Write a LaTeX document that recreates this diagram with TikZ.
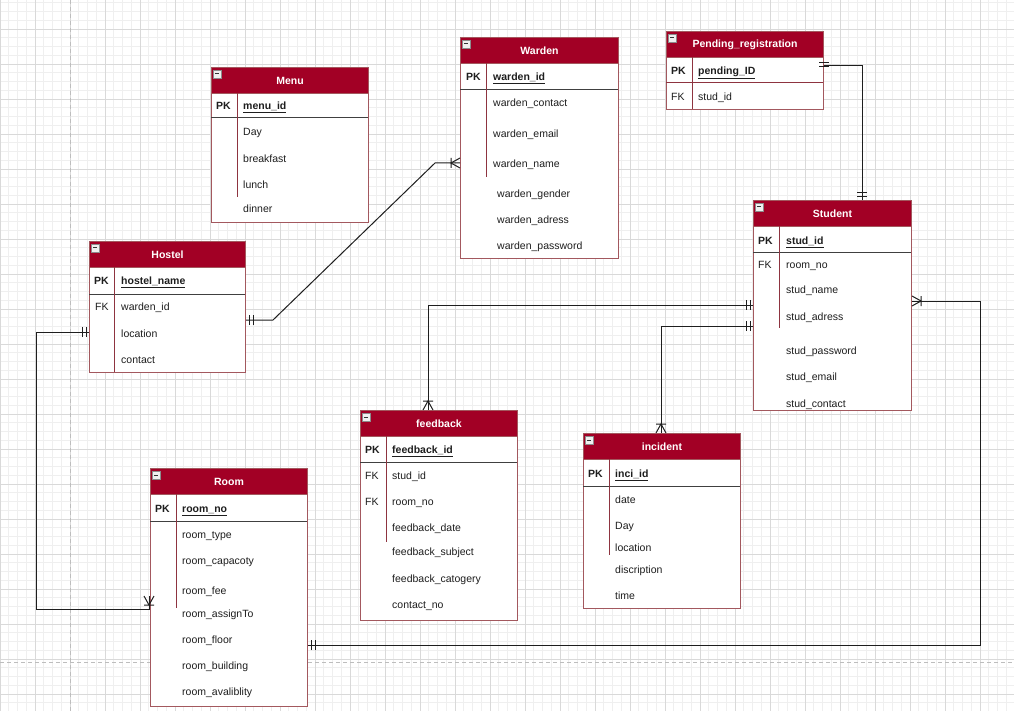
\documentclass[tikz,border=0pt]{standalone}
\usepackage{fontspec}
\setmainfont{Liberation Sans}
\usetikzlibrary{calc}

\definecolor{hdr}{HTML}{A20025}
\definecolor{tline}{HTML}{A3585E}
\definecolor{cdiv}{HTML}{8E3440}
\definecolor{gminor}{HTML}{EFEFEF}
\definecolor{gmajor}{HTML}{D9D9D9}
\definecolor{pgbrk}{HTML}{BDBDBD}
\definecolor{ink}{HTML}{1E1E1E}

\newcommand\fsz{\fontsize{10.5}{12}\selectfont}

\tikzset{
  tbl/.style={draw=tline, line width=1pt, fill=white, anchor=north west, inner sep=0pt},
  thd/.style={draw=tline, line width=1pt, fill=hdr, anchor=north west, inner sep=0pt,
              minimum height=26pt, text=white, font=\fsz\bfseries},
  fld/.style={anchor=west, inner sep=0pt, text=ink, font=\fsz, text height=11pt, text depth=2pt},
  keyl/.style={fld, font=\fsz\bfseries},
  rel/.style={draw=ink, line width=1pt},
  pkdiv/.style={draw=ink!85, line width=1pt},
  coldiv/.style={draw=cdiv, line width=1pt},
  gmin/.style={draw=gminor, line width=0.6pt},
  gmaj/.style={draw=gmajor, line width=0.8pt},
  pics/mandone/.style={code={\draw[rel] (-3,-5)--(-3,5) (-7,-5)--(-7,5);}},
  pics/onemany/.style={code={\draw[rel] (0,-5)--(-9,0)--(0,5) (-9,-5)--(-9,5);}},
  pics/collapse/.style={code={
    \filldraw[fill=white!94!black, draw=black!45, line width=0.5pt] (0,0) rectangle (8,8);
    \draw[black!80, line width=1pt] (2,4)--(6,4);}}
}

\begin{document}
\begin{tikzpicture}[x=1pt,y=-1pt]
\useasboundingbox (0,0) rectangle (1014,711);
\fill[white] (0,0) rectangle (1014,711);

% background grid
\foreach \i in {0,...,115} {\draw[gmin] ({\i*8.75},0) -- ({\i*8.75},711);}
\foreach \j in {0,...,81} {\draw[gmin] (0,{2.75+\j*8.75}) -- (1014,{2.75+\j*8.75});}
\foreach \i in {0,...,28} {\draw[gmaj] ({\i*35},0) -- ({\i*35},711);}
\foreach \j in {0,...,19} {\draw[gmaj] (0,{29+\j*35}) -- (1014,{29+\j*35});}
% page breaks
\draw[pgbrk, line width=0.8pt, dash pattern=on 4pt off 3pt] (70,0) -- (70,711);
\draw[pgbrk, line width=0.8pt, dash pattern=on 4pt off 3pt] (0,662) -- (1014,662);

% ---------- Menu ----------
\node[tbl, minimum width=157pt, minimum height=155pt] (menu) at (211,67) {};
\node[thd, minimum width=157pt] (menuH) at (menu.north west) {Menu};
\pic at (213,70) {collapse};
\draw[pkdiv] (211,118) -- (368,118);
\draw[coldiv] (237,93) -- (237,197);
\node[keyl] (menuK) at (216,105) {PK};
\node[keyl] (menuA0) at (243,105) {\underline{menu\_id}};
\node[fld] (menuA1) at (243,131) {Day};
\node[fld] (menuA2) at (243,158) {breakfast};
\node[fld] (menuA3) at (243,184) {lunch};
\node[fld] (menuA4) at (243,208) {dinner};

% ---------- Warden ----------
\node[tbl, minimum width=158pt, minimum height=221pt] (warden) at (460,37) {};
\node[thd, minimum width=158pt] (wardenH) at (warden.north west) {Warden};
\pic at (462,40) {collapse};
\draw[pkdiv] (460,90) -- (618,90);
\draw[coldiv] (486,63) -- (486,177);
\node[keyl] (wardenK) at (466,76) {PK};
\node[keyl] (wardenA0) at (493,76) {\underline{warden\_id}};
\node[fld] (wardenA1) at (493,102) {warden\_contact};
\node[fld] (wardenA2) at (493,133) {warden\_email};
\node[fld] (wardenA3) at (493,163) {warden\_name};
\node[fld] (wardenA4) at (497,193) {warden\_gender};
\node[fld] (wardenA5) at (497,219) {warden\_adress};
\node[fld] (wardenA6) at (497,245) {warden\_password};

% ---------- Pending_registration ----------
\node[tbl, minimum width=157pt, minimum height=78pt] (pending) at (666,31) {};
\node[thd, minimum width=157pt] (pendingH) at (pending.north west) {Pending\_registration};
\pic at (668,34) {collapse};
\draw[coldiv] (666,83) -- (823,83);
\draw[coldiv] (692,57) -- (692,109);
\node[keyl] (pendingK) at (671,70) {PK};
\node[keyl] (pendingA0) at (698,70) {\underline{pending\_ID}};
\node[fld] (pendingF) at (671,96) {FK};
\node[fld] (pendingA1) at (698,96) {stud\_id};

% ---------- Hostel ----------
\node[tbl, minimum width=156pt, minimum height=131pt] (hostel) at (89,241) {};
\node[thd, minimum width=156pt] (hostelH) at (hostel.north west) {Hostel};
\pic at (91,244) {collapse};
\draw[pkdiv] (89,294) -- (245,294);
\draw[coldiv] (114,267) -- (114,372);
\node[keyl] (hostelK) at (94,280) {PK};
\node[keyl] (hostelA0) at (121,280) {\underline{hostel\_name}};
\node[fld] (hostelF) at (95,306) {FK};
\node[fld] (hostelA1) at (121,306) {warden\_id};
\node[fld] (hostelA2) at (121,333) {location};
\node[fld] (hostelA3) at (121,359) {contact};

% ---------- Student ----------
\node[tbl, minimum width=158pt, minimum height=210pt] (student) at (753,200) {};
\node[thd, minimum width=158pt] (studentH) at (student.north west) {Student};
\pic at (755,203) {collapse};
\draw[pkdiv] (753,253) -- (911,253);
\draw[coldiv] (779,226) -- (779,328);
\node[keyl] (studentK) at (758,240) {PK};
\node[keyl] (studentA0) at (786,240) {\underline{stud\_id}};
\node[fld] (studentF) at (758,264) {FK};
\node[fld] (studentA1) at (786,264) {room\_no};
\node[fld] (studentA2) at (786,289) {stud\_name};
\node[fld] (studentA3) at (786,316) {stud\_adress};
\node[fld] (studentA4) at (786,350) {stud\_password};
\node[fld] (studentA5) at (786,376) {stud\_email};
\node[fld] (studentA6) at (786,403) {stud\_contact};

% ---------- feedback ----------
\node[tbl, minimum width=157pt, minimum height=210pt] (feedback) at (360,410) {};
\node[thd, minimum width=157pt] (feedbackH) at (feedback.north west) {feedback};
\pic at (362,413) {collapse};
\draw[pkdiv] (360,462) -- (517,462);
\draw[coldiv] (386,436) -- (386,542);
\node[keyl] (feedbackK) at (365,449) {PK};
\node[keyl] (feedbackA0) at (392,449) {\underline{feedback\_id}};
\node[fld] (feedbackF1) at (365,475) {FK};
\node[fld] (feedbackA1) at (392,475) {stud\_id};
\node[fld] (feedbackF2) at (365,501) {FK};
\node[fld] (feedbackA2) at (392,501) {room\_no};
\node[fld] (feedbackA3) at (392,527) {feedback\_date};
\node[fld] (feedbackA4) at (392,551) {feedback\_subject};
\node[fld] (feedbackA5) at (392,578) {feedback\_catogery};
\node[fld] (feedbackA6) at (392,604) {contact\_no};

% ---------- incident ----------
\node[tbl, minimum width=157pt, minimum height=175pt] (incident) at (583,433) {};
\node[thd, minimum width=157pt] (incidentH) at (incident.north west) {incident};
\pic at (585,436) {collapse};
\draw[pkdiv] (583,486) -- (740,486);
\draw[coldiv] (609,459) -- (609,555);
\node[keyl] (incidentK) at (588,473) {PK};
\node[keyl] (incidentA0) at (615,473) {\underline{inci\_id}};
\node[fld] (incidentA1) at (615,499) {date};
\node[fld] (incidentA2) at (615,525) {Day};
\node[fld] (incidentA3) at (615,547) {location};
\node[fld] (incidentA4) at (615,569) {discription};
\node[fld] (incidentA5) at (615,595) {time};

% ---------- Room ----------
\node[tbl, minimum width=157pt, minimum height=238pt] (room) at (150,468) {};
\node[thd, minimum width=157pt] (roomH) at (room.north west) {Room};
\pic at (152,471) {collapse};
\draw[pkdiv] (150,521) -- (307,521);
\draw[coldiv] (176,494) -- (176,608);
\node[keyl] (roomK) at (155,508) {PK};
\node[keyl] (roomA0) at (182,508) {\underline{room\_no}};
\node[fld] (roomA1) at (182,534) {room\_type};
\node[fld] (roomA2) at (182,560) {room\_capacoty};
\node[fld] (roomA3) at (182,590) {room\_fee};
\node[fld] (roomA4) at (182,613) {room\_assignTo};
\node[fld] (roomA5) at (182,639) {room\_floor};
\node[fld] (roomA6) at (182,665) {room\_building};
\node[fld] (roomA7) at (182,691) {room\_avaliblity};

% ---------- connector ports ----------
\coordinate (hR) at (hostel.east |- 0,320);
\coordinate (wL) at (warden.west |- 0,163);
\coordinate (pR) at (pending.east |- 0,66);
\coordinate (sT) at (student.north -| 862,0);
\coordinate (sL1) at (student.west |- 0,305);
\coordinate (fT) at (feedback.north -| 428,0);
\coordinate (sL2) at (student.west |- 0,326);
\coordinate (iT) at (incident.north -| 661,0);
\coordinate (hL) at (hostel.west |- 0,332);
\coordinate (rL) at (149,596);
\coordinate (rR) at (room.east |- 0,645);
\coordinate (sR) at (student.east |- 0,301);

% ---------- relationships ----------
% Hostel -- Warden
\draw[rel] (hR) -- ++(27,0) -- (wL -| 435,0) -- (wL);
\pic[rotate=180] at (hR) {mandone};
\pic at (wL) {onemany};
% Pending_registration -- Student
\draw[rel] (pR) -| (sT);
\pic[rotate=90] at ([yshift=6pt]pR) {mandone};
\pic[rotate=-90] at (sT) {mandone};
% Student -- feedback
\draw[rel] (sL1) -| (fT);
\pic at (sL1) {mandone};
\pic[rotate=-90] at (fT) {onemany};
% Student -- incident
\draw[rel] (sL2) -| (iT);
\pic at (sL2) {mandone};
\pic[rotate=-90] at (iT) {onemany};
% Hostel -- Room
\draw[rel] (hL) -- (hL -| 36,0) -- (36,609) -- (rL |- 0,609) -- (rL);
\pic at (hL) {mandone};
\pic[rotate=90] at (rL) {onemany};
% Room -- Student
\draw[rel] (rR) -- (rR -| 980,0) |- (sR);
\pic[rotate=180] at (rR) {mandone};
\pic[rotate=180] at (sR) {onemany};
\end{tikzpicture}
\end{document}
